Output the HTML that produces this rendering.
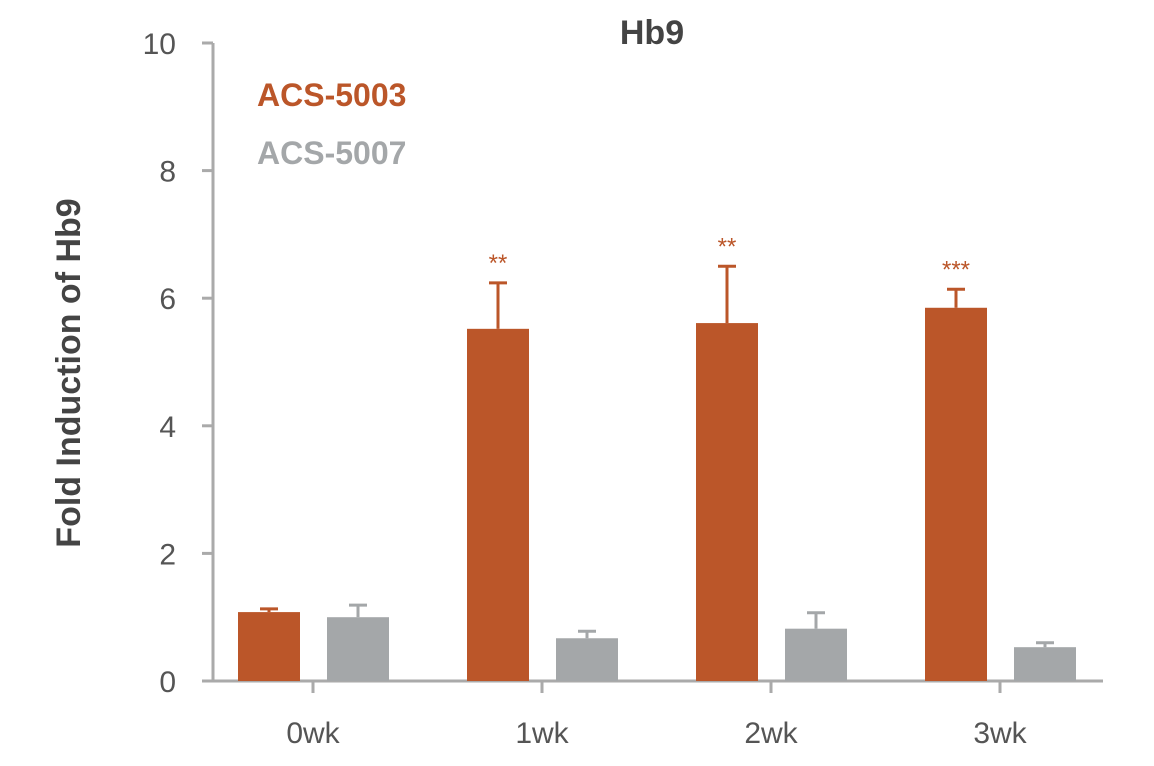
<!DOCTYPE html>
<html><head><meta charset="utf-8"><style>
body{margin:0;background:#fff;}
svg text{font-family:"Liberation Sans",sans-serif;}
</style></head><body>
<svg width="1154" height="761" viewBox="0 0 1154 761" xmlns="http://www.w3.org/2000/svg">
<g id="chart"></g>
</svg>
<script>
const categories=["0wk","1wk","2wk","3wk"];
const acs5003=[1.08,5.52,5.61,5.85];
const acs5003Err=[0.05,0.72,0.89,0.29];
const acs5007=[1.0,0.67,0.82,0.53];
const acs5007Err=[0.19,0.11,0.25,0.07];
const stars=["","**","**","***"];
const yTicks=[0,2,4,6,8,10];

const NS="http://www.w3.org/2000/svg";
const g=document.getElementById('chart');
const y0=681,y10=43;
const y=v=>y0-(y0-y10)*v/10;
const cx=i=>313+229*i;
const OR="#bb5629",GR="#a4a7a9",AX="#aaaaaa",TX="#555";
function el(t,a){const e=document.createElementNS(NS,t);for(const k in a)e.setAttribute(k,a[k]);g.appendChild(e);return e;}

let ax=el('line',{x1:213,y1:y10,x2:213,y2:y0,stroke:AX,'stroke-width':3});


let bx=el('line',{x1:203,y1:y0,x2:1103,y2:y0,stroke:AX,'stroke-width':3});



yTicks.forEach(v=>{
 let t=el('line',{x1:202,y1:y(v),x2:213,y2:y(v),stroke:AX,'stroke-width':3});
 
 
 let l=el('text',{x:176,y:y(v)+11,'text-anchor':'end','font-size':30,fill:TX});
 l.textContent=v;
 
 
});

categories.forEach((c,i)=>{
 let t=el('line',{x1:cx(i),y1:y0,x2:cx(i),y2:693,stroke:AX,'stroke-width':3});
 
 
 let l=el('text',{x:cx(i),y:743,'text-anchor':'middle','font-size':30,fill:TX});
 l.textContent=c;
 
 
 [[acs5003,acs5003Err,OR,-75,'acs-5003'],[acs5007,acs5007Err,GR,14,'acs-5007']].forEach(([vals,errs,col,off,nm])=>{
  const x=cx(i)+off, top=y(vals[i]), et=y(vals[i]+errs[i]);
  let b=el('rect',{x:x,y:top,width:62,height:y0-top,fill:col});
  
  
  let e=el('line',{x1:x+31,y1:top,x2:x+31,y2:et,stroke:col,'stroke-width':3});
  
  
  let ec=el('line',{x1:x+22,y1:et,x2:x+40,y2:et,stroke:col,'stroke-width':3});
  
  
 });
 if(stars[i]){
  let s=el('text',{x:cx(i)-44,y:y(acs5003[i]+acs5003Err[i])-12,'text-anchor':'middle','font-size':24,fill:OR});
  s.textContent=stars[i];
  
  
 }
});

let ti=el('text',{x:652,y:44,'text-anchor':'middle','font-size':34,'font-weight':'bold',fill:'#444'});
ti.textContent='Hb9';


let yt=el('text',{x:0,y:0,'text-anchor':'middle','font-size':34,'font-weight':'bold',fill:'#444',transform:'translate(80,373) rotate(-90)'});
yt.textContent='Fold Induction of Hb9';


let l1=el('text',{x:257,y:106,'font-size':32,'font-weight':'bold',fill:OR});
l1.textContent='ACS-5003';


let l2=el('text',{x:257,y:164,'font-size':32,'font-weight':'bold',fill:GR});
l2.textContent='ACS-5007';


</script>
</body></html>
